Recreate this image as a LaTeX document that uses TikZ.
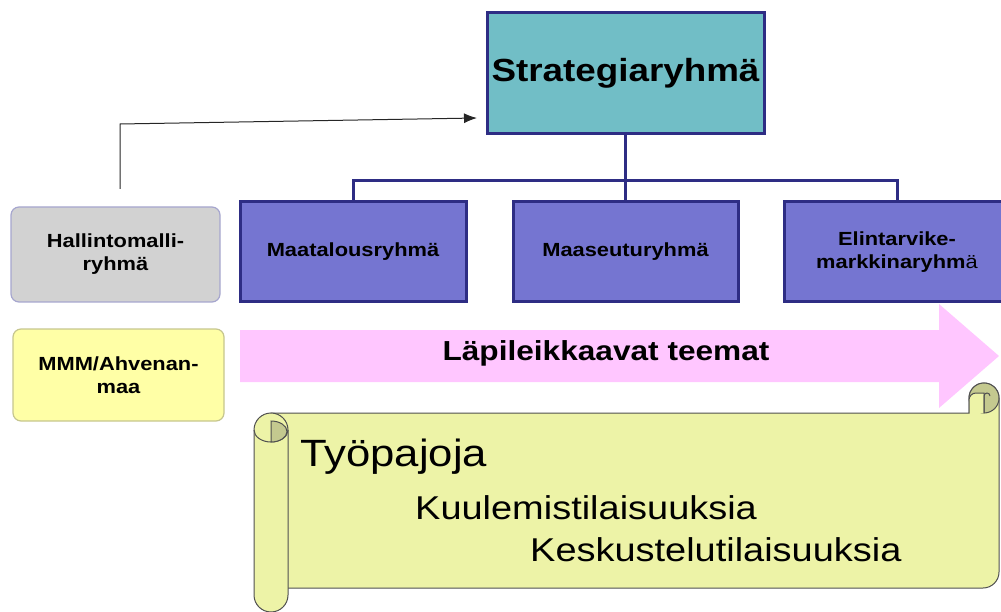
\documentclass[tikz,border=0pt]{standalone}
\usepackage{fontspec}
\setmainfont{Liberation Sans}[FakeStretch=1.15]
\usepackage{tikz}
\usetikzlibrary{positioning,arrows.meta}
\definecolor{navy}{HTML}{2E2D84}
\definecolor{tealbox}{HTML}{71BEC6}
\definecolor{violetbox}{HTML}{7575D1}
\definecolor{greybox}{HTML}{D2D2D2}
\definecolor{greyline}{HTML}{A6A6CE}
\definecolor{yellowbox}{HTML}{FFFFA6}
\definecolor{yellowline}{HTML}{C6C68E}
\definecolor{pinkarrow}{HTML}{FFC6FF}
\definecolor{scrollfill}{HTML}{EDF3A7}
\definecolor{curlfill}{HTML}{C4C98F}
\definecolor{scrolledge}{HTML}{505050}
\tikzstyle{top} = [rectangle, draw=navy, line width=3pt, fill=tealbox, align=center, font=\bfseries\fontsize{32}{36}\selectfont]
\tikzstyle{grp} = [rectangle, draw=navy, line width=3pt, fill=violetbox, align=center, font=\bfseries\fontsize{19}{23}\selectfont]
\tikzstyle{side} = [rectangle, rounded corners=8pt, line width=1.2pt, align=center, font=\bfseries\fontsize{19}{23}\selectfont]
\tikzstyle{tree} = [draw=navy, line width=3pt]
\tikzstyle{scroll} = [fill=scrollfill, draw=scrolledge, line width=1pt]
\tikzstyle{curl} = [fill=curlfill, draw=scrolledge, line width=1pt]
\tikzstyle{item} = [anchor=west, inner sep=0pt, font=\fontsize{33}{38}\selectfont]

\begin{document}
\begin{tikzpicture}[x=1pt, y=-1pt]
\useasboundingbox (0,0) rectangle (1001,612);
\clip (0,0) rectangle (1001,612);
\node(S)[top, minimum width=277pt, minimum height=121pt] at (625.5,73.5) {Strategiaryhmä};
\node(A)[grp, minimum width=226pt, minimum height=100pt] at (353,252) {Maatalousryhmä};
\node(B)[grp, minimum width=225pt, minimum height=100pt] at (625.5,252) {Maaseuturyhmä};
\node(C)[grp, minimum width=226pt, minimum height=100pt] at (897,252) {Elintarvike-\\markkinaryhm\textmd{ä}};
\node(H)[side, draw=greyline, fill=greybox, minimum width=209pt, minimum height=95pt] at (115.5,254.5) {Hallintomalli-\\ryhmä};
\node(M)[side, draw=yellowline, fill=yellowbox, minimum width=211pt, minimum height=92pt] at (118.5,375) {MMM/Ahvenan-\\maa};
\coordinate (J) at (625.5,181);
\draw[tree] (S.south)--(J);
\draw[tree] (J)-|(A.north);
\draw[tree] (J)--(B.north);
\draw[tree] (J)-|(C.north);
\coordinate (Hs) at (120,189);
\coordinate (He) at (477,118);
\draw[line width=1pt, draw=black!85, -{Latex[length=13pt,width=10pt]}] (Hs)--(120,124)--(He);
% crosscutting themes
\fill[pinkarrow] (240,330)--(939,330)--(939,304)--(999,356)--(939,408)--(939,382)--(240,382)--cycle;
\node(T)[font=\bfseries\fontsize{27.5}{30}\selectfont] at (606,353) {Läpileikkaavat teemat};
% scroll
\filldraw[scroll] (271,413)--(969,413)--(969,398) arc[start angle=180, end angle=360, radius=15]
  --(999,572) arc[start angle=0, end angle=90, radius=16]--(271,588)--cycle;
\filldraw[curl] (984,398) circle[radius=15];
\filldraw[scroll] (969,413)--(969,400) arc[start angle=180, end angle=270, radius=7]--(984,393)--(984,413);
\draw[scroll, fill=none] (984,413)--(984,396) arc[start angle=180, end angle=360, radius=3];
\filldraw[scroll] (254,430) arc[start angle=180, end angle=360, radius=17]
  --(288,595) arc[start angle=0, end angle=180, radius=17]--cycle;
\draw[scroll, fill=none] (254,430) arc[start angle=180, end angle=0, x radius=17, y radius=12];
\filldraw[curl] (271,442) arc[start angle=90, end angle=-90, x radius=16, y radius=10.5]--cycle;
\node(P1)[item, font=\fontsize{38}{42}\selectfont] at (300,457) {Työpajoja};
\node(P2)[item] at (415,508) {Kuulemistilaisuuksia};
\node(P3)[item] at (530,550) {Keskustelutilaisuuksia};
\end{tikzpicture}
\end{document}
